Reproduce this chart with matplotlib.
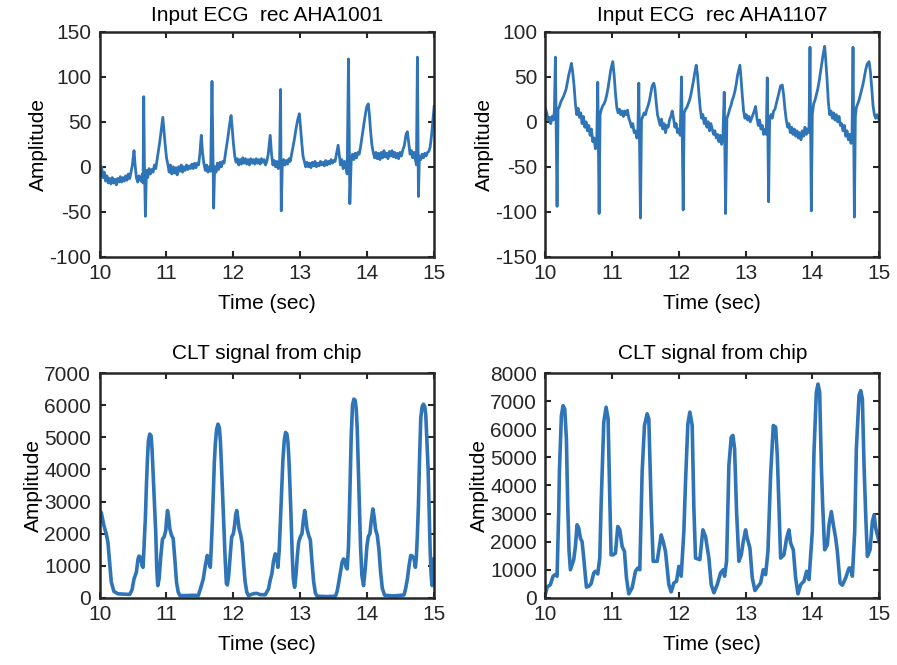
import matplotlib.pyplot as plt

plt.rcParams['font.family'] = ['Liberation Sans', 'DejaVu Sans']
plt.rcParams['font.size'] = 15
plt.rcParams['axes.unicode_minus'] = False

# rec AHA1001, input ECG (time in sec, amplitude)
ecg1_t = [10.00, 10.02, 10.03, 10.05, 10.07, 10.09, 10.11, 10.13, 10.15, 10.17,
          10.19, 10.21, 10.23, 10.25, 10.27, 10.29, 10.31, 10.33, 10.35, 10.37,
          10.39, 10.41, 10.43, 10.45, 10.47, 10.49, 10.515, 10.53, 10.55, 10.57,
          10.59, 10.62, 10.64, 10.65, 10.66, 10.67, 10.685, 10.70, 10.72, 10.74,
          10.76, 10.78, 10.80, 10.82, 10.84, 10.86, 10.88, 10.90, 10.92, 10.945,
          10.96, 10.98, 11.00, 11.02, 11.04, 11.06, 11.08, 11.10, 11.12, 11.14,
          11.16, 11.18, 11.20, 11.22, 11.24, 11.26, 11.28, 11.30, 11.32, 11.34,
          11.36, 11.38, 11.40, 11.42, 11.44, 11.46, 11.48, 11.50, 11.52, 11.54,
          11.56, 11.58, 11.60, 11.62, 11.64, 11.66, 11.68, 11.705, 11.72, 11.74,
          11.76, 11.78, 11.80, 11.82, 11.84, 11.86, 11.88, 11.90, 11.92, 11.945,
          11.965, 11.98, 12.00, 12.02, 12.04, 12.06, 12.08, 12.10, 12.12, 12.14,
          12.16, 12.18, 12.20, 12.22, 12.24, 12.26, 12.28, 12.30, 12.32, 12.34,
          12.36, 12.38, 12.40, 12.42, 12.44, 12.46, 12.48, 12.50, 12.52, 12.55,
          12.57, 12.59, 12.61, 12.63, 12.65, 12.67, 12.69, 12.705, 12.715, 12.73,
          12.75, 12.77, 12.79, 12.81, 12.83, 12.85, 12.87, 12.89, 12.91, 12.935,
          12.96, 12.985, 13.00, 13.02, 13.04, 13.06, 13.08, 13.10, 13.12, 13.14,
          13.16, 13.18, 13.20, 13.22, 13.24, 13.26, 13.28, 13.30, 13.32, 13.34,
          13.36, 13.38, 13.40, 13.42, 13.44, 13.46, 13.48, 13.50, 13.52, 13.545,
          13.565, 13.585, 13.60, 13.62, 13.64, 13.66, 13.68, 13.70, 13.72, 13.74,
          13.76, 13.78, 13.80, 13.82, 13.84, 13.86, 13.88, 13.90, 13.92, 13.94,
          13.965, 13.99, 14.015, 14.03, 14.05, 14.07, 14.09, 14.11, 14.13, 14.15,
          14.17, 14.19, 14.21, 14.23, 14.25, 14.27, 14.29, 14.31, 14.33, 14.35,
          14.37, 14.39, 14.41, 14.43, 14.45, 14.47, 14.49, 14.51, 14.53, 14.555,
          14.58, 14.60, 14.62, 14.64, 14.66, 14.68, 14.70, 14.72, 14.735, 14.75,
          14.765, 14.78, 14.80, 14.82, 14.84, 14.86, 14.88, 14.90, 14.92, 14.94,
          14.96, 14.98, 15.00]
ecg1_v = [2, -8, 0, -12, -6, -16, -10, -18, -13, -19,
          -12, -18, -14, -20, -13, -17, -11, -17, -12, -16,
          -10, -15, -8, -13, -6, 2, 18, 3, -12, -17,
          -10, -16, -8, -18, 78, 5, -55, -4, -12, -2,
          -8, -3, -6, 2, -2, 8, 18, 28, 40, 55,
          42, 25, 10, 3, -6, 2, -8, 0, -7, -1,
          -9, 0, -5, 2, -6, 0, -4, 2, -3, 1,
          -2, 3, -2, 4, -1, 4, 2, 15, 35, 15,
          3, -4, 2, -6, 0, -5, 95, -46, 0, -6,
          4, -3, 5, 0, 6, 4, 14, 24, 34, 48,
          57, 45, 26, 12, 5, 9, 2, 8, 3, 10,
          4, 9, 3, 8, 2, 9, 4, 8, 3, 9,
          4, 8, 3, 9, 5, 8, 2, 6, 14, 35,
          14, 2, 7, 0, 6, -2, 4, 86, -49, 0,
          8, 2, 7, 3, 9, 6, 14, 22, 30, 42,
          52, 59, 47, 28, 12, 6, 0, 5, 0, 4,
          -1, 5, 1, 6, 0, 4, 1, 6, 2, 5,
          1, 7, 2, 6, 3, 8, 4, 7, 6, 16,
          24, 12, 2, 8, -2, 6, 0, -8, 120, -41,
          6, 14, 8, 15, 10, 16, 14, 22, 32, 42,
          55, 66, 70, 60, 40, 24, 16, 10, 16, 9,
          15, 8, 16, 10, 18, 11, 15, 9, 17, 12,
          18, 11, 16, 10, 15, 9, 16, 12, 18, 24,
          36, 39, 26, 14, 18, 10, 16, 8, 2, 122,
          -33, 12, 8, 14, 10, 15, 12, 16, 17, 22,
          34, 50, 67]

# rec AHA1107, input ECG
ecg2_t = [10.00, 10.02, 10.04, 10.06, 10.08, 10.10, 10.12, 10.135, 10.15, 10.175,
          10.19, 10.21, 10.23, 10.25, 10.27, 10.29, 10.31, 10.33, 10.35, 10.37,
          10.39, 10.41, 10.43, 10.45, 10.47, 10.49, 10.51, 10.53, 10.55, 10.57,
          10.59, 10.61, 10.63, 10.65, 10.67, 10.69, 10.71, 10.73, 10.75, 10.77,
          10.785, 10.805, 10.82, 10.84, 10.86, 10.88, 10.90, 10.92, 10.94, 10.96,
          10.98, 11.01, 11.03, 11.05, 11.07, 11.09, 11.11, 11.13, 11.15, 11.17,
          11.19, 11.21, 11.23, 11.25, 11.27, 11.29, 11.31, 11.33, 11.35, 11.37,
          11.385, 11.40, 11.425, 11.44, 11.46, 11.48, 11.50, 11.52, 11.54, 11.56,
          11.58, 11.60, 11.625, 11.64, 11.66, 11.68, 11.70, 11.72, 11.74, 11.76,
          11.78, 11.80, 11.82, 11.84, 11.86, 11.88, 11.90, 11.92, 11.94, 11.96,
          11.98, 12.00, 12.02, 12.04, 12.065, 12.08, 12.10, 12.12, 12.14, 12.16,
          12.18, 12.20, 12.22, 12.24, 12.26, 12.28, 12.30, 12.32, 12.34, 12.36,
          12.38, 12.40, 12.42, 12.44, 12.46, 12.48, 12.50, 12.52, 12.54, 12.56,
          12.58, 12.60, 12.62, 12.64, 12.66, 12.68, 12.70, 12.72, 12.74, 12.76,
          12.78, 12.80, 12.82, 12.84, 12.86, 12.88, 12.915, 12.93, 12.95, 12.97,
          12.99, 13.01, 13.03, 13.05, 13.07, 13.09, 13.11, 13.13, 13.15, 13.17,
          13.19, 13.21, 13.23, 13.25, 13.27, 13.29, 13.31, 13.325, 13.345, 13.36,
          13.38, 13.40, 13.42, 13.44, 13.46, 13.48, 13.50, 13.525, 13.55, 13.57,
          13.59, 13.61, 13.63, 13.65, 13.67, 13.69, 13.71, 13.73, 13.75, 13.77,
          13.79, 13.81, 13.83, 13.85, 13.87, 13.89, 13.91, 13.93, 13.95, 13.965,
          13.985, 14.00, 14.02, 14.04, 14.06, 14.08, 14.10, 14.12, 14.14, 14.16,
          14.185, 14.20, 14.22, 14.24, 14.26, 14.28, 14.30, 14.32, 14.34, 14.36,
          14.38, 14.40, 14.42, 14.44, 14.46, 14.48, 14.50, 14.52, 14.54, 14.56,
          14.58, 14.595, 14.61, 14.63, 14.645, 14.66, 14.68, 14.70, 14.72, 14.74,
          14.76, 14.78, 14.80, 14.82, 14.85, 14.87, 14.89, 14.91, 14.93, 14.95,
          14.97, 15.00]
ecg2_v = [15, 10, 2, 5, -2, 6, 2, 12, 72, -94,
          14, 17, 22, 25, 28, 32, 36, 44, 52, 58,
          65, 55, 40, 20, 8, 15, 5, 10, -2, 6,
          -6, 0, -10, -4, -15, -8, -22, -18, -30, -20,
          44, -102, 8, 14, 18, 20, 24, 30, 38, 48,
          58, 67, 52, 32, 16, 10, 14, 8, 12, 6,
          12, 8, 13, 4, 0, -6, -2, -12, -10, -18,
          -15, 43, -107, 2, 6, 10, 8, 14, 18, 24,
          32, 40, 43, 38, 22, 8, 2, -4, 3, -8,
          -2, -12, -4, -6, 2, 6, 12, 4, -6, -2,
          -12, -8, -15, 50, -98, 10, 14, 16, 20, 24,
          30, 38, 46, 55, 63, 52, 32, 15, 4, 8,
          -2, 4, -6, 0, -10, -2, -8, -14, -10, -18,
          -14, -22, -15, -25, -18, 33, -102, 4, 8, 14,
          18, 24, 28, 34, 42, 52, 63, 50, 30, 12,
          4, 8, 2, 6, 0, 4, 8, 12, 17, 4,
          -4, 2, -8, -4, -14, -8, -14, 49, -89, 2,
          8, 4, 12, 14, 20, 26, 32, 40, 41, 30,
          14, 2, -6, -2, -12, -6, -14, -8, -16, -10,
          -18, -12, -20, -10, -16, -6, -14, -8, -12, 83,
          -99, 8, 20, 24, 30, 36, 44, 54, 64, 74,
          84, 70, 48, 22, 8, 12, 4, 10, 2, 8,
          0, 6, -4, -2, -10, -4, -16, -10, -20, -14,
          -24, -15, 83, -106, 6, 16, 20, 24, 30, 36,
          42, 50, 58, 64, 67, 56, 38, 18, 8, 4,
          8, 2]

# CLT signal from chip, rec AHA1001
clt1_t = [10.000, 10.025, 10.065, 10.100, 10.125, 10.150, 10.175, 10.215, 10.275, 10.375,
          10.450, 10.485, 10.515, 10.550, 10.575, 10.590, 10.615, 10.635, 10.650, 10.665,
          10.685, 10.700, 10.715, 10.730, 10.750, 10.770, 10.785, 10.800, 10.820, 10.840,
          10.855, 10.870, 10.890, 10.915, 10.940, 10.965, 10.990, 11.000, 11.015, 11.030,
          11.050, 11.075, 11.100, 11.125, 11.150, 11.175, 11.200, 11.300, 11.400, 11.475,
          11.510, 11.550, 11.580, 11.610, 11.635, 11.655, 11.670, 11.685, 11.700, 11.715,
          11.730, 11.750, 11.770, 11.790, 11.805, 11.820, 11.835, 11.855, 11.875, 11.895,
          11.910, 11.930, 11.955, 11.975, 12.000, 12.020, 12.035, 12.050, 12.065, 12.085,
          12.110, 12.130, 12.155, 12.175, 12.200, 12.225, 12.300, 12.350, 12.400, 12.475,
          12.525, 12.550, 12.575, 12.600, 12.625, 12.645, 12.665, 12.685, 12.700, 12.720,
          12.740, 12.760, 12.780, 12.800, 12.815, 12.830, 12.845, 12.860, 12.880, 12.895,
          12.915, 12.935, 12.955, 12.975, 13.000, 13.025, 13.045, 13.065, 13.080, 13.100,
          13.125, 13.150, 13.175, 13.200, 13.225, 13.250, 13.400, 13.525, 13.550, 13.575,
          13.600, 13.625, 13.645, 13.665, 13.685, 13.700, 13.720, 13.740, 13.760, 13.780,
          13.800, 13.820, 13.835, 13.850, 13.865, 13.880, 13.900, 13.920, 13.945, 13.970,
          13.995, 14.015, 14.040, 14.060, 14.085, 14.105, 14.125, 14.150, 14.175, 14.200,
          14.225, 14.260, 14.400, 14.550, 14.575, 14.600, 14.625, 14.650, 14.675, 14.700,
          14.720, 14.735, 14.750, 14.765, 14.780, 14.800, 14.820, 14.840, 14.860, 14.875,
          14.890, 14.910, 14.925, 14.940, 14.955, 14.970, 14.985, 15.000]
clt1_v = [2350, 2660, 2250, 1990, 1730, 1110, 490, 200, 125, 115,
          105, 250, 590, 800, 1210, 1300, 1260, 1000, 950, 1630,
          2500, 3500, 4300, 4900, 5100, 5050, 4600, 3900, 3000, 2000,
          900, 380, 600, 1300, 1830, 1900, 2100, 2400, 2720, 2550,
          2150, 1950, 1850, 1200, 490, 180, 70, 70, 80, 70,
          300, 590, 1000, 1320, 1100, 950, 1600, 2350, 3300, 4200,
          4800, 5250, 5410, 5300, 4900, 4200, 3390, 2300, 1300, 450,
          400, 700, 1400, 1900, 2000, 2300, 2600, 2720, 2500, 2150,
          1950, 1700, 1000, 500, 180, 70, 130, 140, 100, 95,
          280, 550, 750, 1150, 1370, 1300, 950, 1500, 2250, 3300,
          4300, 4900, 5150, 5100, 4850, 4300, 3500, 2600, 1300, 600,
          330, 700, 1300, 1730, 1900, 2000, 2400, 2720, 2500, 2150,
          1950, 1800, 1100, 490, 150, 50, 40, 50, 200, 490,
          800, 1110, 1210, 1180, 950, 900, 1600, 3200, 5000, 6000,
          6190, 6150, 5900, 5300, 4200, 3000, 1600, 700, 380, 900,
          1600, 1900, 2000, 2400, 2770, 2500, 2120, 1950, 1500, 800,
          300, 80, 60, 90, 300, 590, 1000, 1320, 1300, 1210,
          950, 1300, 2000, 2870, 4200, 5600, 5950, 6030, 5950, 5700,
          5000, 4000, 2800, 1500, 700, 380, 500, 1210]

# CLT signal from chip, rec AHA1107
clt2_t = [10.000, 10.025, 10.075, 10.115, 10.150, 10.175, 10.200, 10.210, 10.240, 10.265,
          10.290, 10.315, 10.335, 10.355, 10.375, 10.400, 10.425, 10.450, 10.475, 10.500,
          10.525, 10.550, 10.575, 10.615, 10.650, 10.685, 10.725, 10.750, 10.785, 10.815,
          10.835, 10.875, 10.910, 10.940, 10.965, 10.985, 11.015, 11.050, 11.085, 11.115,
          11.150, 11.185, 11.215, 11.250, 11.300, 11.350, 11.385, 11.415, 11.450, 11.485,
          11.525, 11.550, 11.585, 11.615, 11.675, 11.735, 11.765, 11.800, 11.850, 11.885,
          11.925, 11.965, 12.000, 12.035, 12.075, 12.100, 12.135, 12.165, 12.200, 12.225,
          12.250, 12.315, 12.360, 12.400, 12.450, 12.485, 12.525, 12.575, 12.625, 12.665,
          12.685, 12.715, 12.750, 12.785, 12.810, 12.835, 12.865, 12.900, 12.935, 12.965,
          13.000, 13.025, 13.065, 13.100, 13.140, 13.185, 13.225, 13.265, 13.300, 13.335,
          13.375, 13.415, 13.450, 13.475, 13.500, 13.525, 13.575, 13.615, 13.650, 13.675,
          13.715, 13.750, 13.785, 13.825, 13.875, 13.915, 13.950, 14.000, 14.025, 14.060,
          14.085, 14.110, 14.135, 14.155, 14.185, 14.225, 14.250, 14.285, 14.315, 14.350,
          14.375, 14.415, 14.450, 14.500, 14.550, 14.575, 14.600, 14.635, 14.660, 14.700,
          14.725, 14.750, 14.775, 14.800, 14.825, 14.865, 14.900, 14.925, 14.950, 15.000]
clt2_v = [118, 380, 470, 770, 830, 770, 3070, 4480, 6490, 6840,
          6725, 5660, 3300, 1650, 1000, 1180, 1360, 1830, 2600, 2480,
          2120, 2000, 1415, 380, 410, 500, 885, 945, 850, 1415,
          3300, 6250, 6785, 6370, 3540, 1530, 1530, 1590, 2540, 2420,
          1830, 1650, 710, 140, 355, 945, 1060, 1000, 4480, 6135,
          6550, 6370, 3300, 1300, 1300, 2240, 2000, 1650, 470, 210,
          530, 590, 1120, 770, 2360, 4130, 6195, 6610, 6135, 3190,
          1415, 1360, 2420, 2180, 1415, 470, 180, 470, 885, 1000,
          770, 1300, 4720, 5720, 5780, 5310, 3070, 1300, 1530, 2000,
          2420, 2120, 1770, 710, 260, 410, 530, 1000, 825, 1650,
          4370, 6135, 6075, 5075, 3300, 1415, 1530, 2125, 2420, 1950,
          1710, 710, 140, 470, 590, 945, 650, 2360, 5190, 7315,
          7610, 7315, 4720, 3300, 1710, 1890, 2600, 3070, 2600, 2125,
          1650, 530, 450, 710, 1060, 1060, 770, 2360, 5310, 7200,
          7375, 7080, 4720, 2950, 1475, 1710, 2715, 2950, 2480, 2000]

line_color = '#2E74B7'

fig = plt.figure(figsize=(8.97, 6.65), dpi=100)
ax1 = fig.add_axes([0.111, 0.614, 0.373, 0.338])
ax2 = fig.add_axes([0.608, 0.614, 0.372, 0.338])
ax3 = fig.add_axes([0.111, 0.101, 0.373, 0.338])
ax4 = fig.add_axes([0.608, 0.101, 0.372, 0.338])

ax1.plot(ecg1_t, ecg1_v, color=line_color, lw=2.0)
ax1.set_ylim(-100, 150)
ax1.set_yticks([-100, -50, 0, 50, 100, 150])
ax1.set_title('Input ECG  rec AHA1001', fontsize=15, pad=8)

ax2.plot(ecg2_t, ecg2_v, color=line_color, lw=2.0)
ax2.set_ylim(-150, 100)
ax2.set_yticks([-150, -100, -50, 0, 50, 100])
ax2.set_title('Input ECG  rec AHA1107', fontsize=15, pad=8)

ax3.plot(clt1_t, clt1_v, color=line_color, lw=2.6)
ax3.set_ylim(0, 7000)
ax3.set_yticks(range(0, 7001, 1000))
ax3.set_title('CLT signal from chip', fontsize=15, pad=10)

ax4.plot(clt2_t, clt2_v, color=line_color, lw=2.6)
ax4.set_ylim(0, 8000)
ax4.set_yticks(range(0, 8001, 1000))
ax4.set_title('CLT signal from chip', fontsize=15, pad=10)

for ax in [ax1, ax2, ax3, ax4]:
    ax.set_xlim(10, 15)
    ax.set_xticks([10, 11, 12, 13, 14, 15])
    ax.set_xlabel('Time (sec)', fontsize=15, labelpad=8)
    ax.set_ylabel('Amplitude', fontsize=15, labelpad=1)
    ax.tick_params(direction='in', length=4, width=1.5, top=True, right=True,
                   labelsize=15, colors='#262626')
    ax.tick_params(axis='x', pad=5)
    ax.tick_params(axis='y', pad=6)
    for s in ax.spines.values():
        s.set_linewidth(1.8)
        s.set_color('#262626')

fig.savefig('out.png', dpi=100)
